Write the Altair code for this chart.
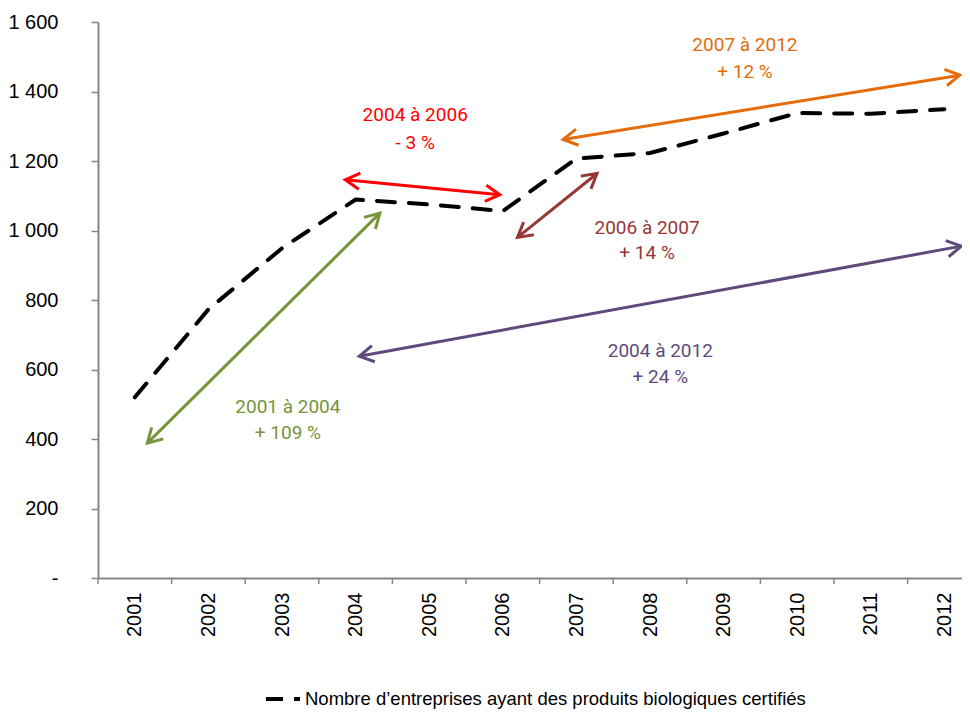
import math
import altair as alt
import pandas as pd

# ---- data ----
years = list(range(2001, 2013))
entreprises = [520, 773, 949, 1089, 1075, 1056, 1207, 1223, 1279, 1338, 1336, 1349]
serie_name = "Nombre d\u2019entreprises ayant des produits biologiques certifiés"
y_ticks = [0, 200, 400, 600, 800, 1000, 1200, 1400, 1600]

arrow_names = ["2001 à 2004", "2004 à 2006", "2006 à 2007", "2007 à 2012", "2004 à 2012"]
arrow_changes = ["+ 109 %", "- 3 %", "+ 14 %", "+ 12 %", "+ 24 %"]
arrow_colors = ["#77933C", "#FF0000", "#953735", "#E46C0A", "#604A7B"]
arrow_x1 = [2001.17, 2003.86, 2006.20, 2006.82, 2004.05]
arrow_y1 = [388, 1146, 980, 1262, 638]
arrow_x2 = [2004.33, 2005.96, 2007.28, 2012.21, 2012.23]
arrow_y2 = [1050, 1103, 1164, 1447, 955]
label_x = [2003.08, 2004.81, 2007.96, 2009.29, 2008.14]
label_y1 = [491, 1331, 1006, 1533, 652]
label_y2 = [416, 1251, 934, 1455, 578]

# ---- layout ----
W, H = 864, 556
X_MIN = 2000.5
X_MAX = X_MIN + W / 73.6
Y_MIN, Y_MAX = 0, 1600
px_x = W / (X_MAX - X_MIN)
px_y = H / (Y_MAX - Y_MIN)

AXIS_FONT = "Liberation Sans, Arial, sans-serif"
ANN_FONT = "Roboto, Liberation Sans, sans-serif"
GRAY = "#868686"

xscale = alt.Scale(domain=[X_MIN, X_MAX], nice=False, zero=False)
yscale = alt.Scale(domain=[Y_MIN, Y_MAX], nice=False)
xaxis = alt.Axis(values=years, format="d", ticks=False, labelAngle=270,
                 labelPadding=14, labelFontSize=20, title=None,
                 labelOverlap=False, labelFlush=False, grid=False)
yaxis = alt.Axis(values=y_ticks, title=None, grid=False,
                 tickSize=7, labelPadding=33, labelFontSize=20,
                 labelExpr="datum.value == 0 ? '-' : replace(format(datum.value, ','), ',', ' ')")

line_df = pd.DataFrame({"year": years, "value": entreprises, "serie": serie_name})

arrows_df = pd.DataFrame({
    "name": arrow_names, "color": arrow_colors,
    "x1": arrow_x1, "y1": arrow_y1, "x2": arrow_x2, "y2": arrow_y2,
})

heads = []
for n, c, x1, y1, x2, y2 in zip(arrow_names, arrow_colors, arrow_x1, arrow_y1, arrow_x2, arrow_y2):
    dx = (x2 - x1) * px_x
    dy = -(y2 - y1) * px_y
    ang = math.degrees(math.atan2(dy, dx))
    heads.append({"name": n, "color": c, "x1": x2, "y1": y2, "ang": ang % 360})
    heads.append({"name": n, "color": c, "x1": x1, "y1": y1, "ang": (ang + 180) % 360})
heads_df = pd.DataFrame(heads)

labels = []
for n, ch, c, lx, ly1, ly2 in zip(arrow_names, arrow_changes, arrow_colors, label_x, label_y1, label_y2):
    labels.append({"txt": n, "color": c, "x1": lx, "y1": ly1})
    labels.append({"txt": ch, "color": c, "x1": lx, "y1": ly2})
labels_df = pd.DataFrame(labels)

bounds_df = pd.DataFrame({"x1": [y - 0.5 for y in years]})

line = alt.Chart(line_df).mark_line(
    strokeDash=[18, 14], strokeWidth=4, strokeCap="round"
).encode(
    x=alt.X("year:Q", scale=xscale, axis=xaxis),
    y=alt.Y("value:Q", scale=yscale, axis=yaxis),
    color=alt.Color("serie:N", scale=alt.Scale(range=["black"]),
                    legend=alt.Legend(orient="none", legendX=166, legendY=658, title=None,
                                      symbolType="stroke", symbolStrokeWidth=4,
                                      symbolDash=[17, 11], symbolSize=1156,
                                      symbolStrokeColor="black",
                                      labelFont=AXIS_FONT, labelFontSize=18.5,
                                      labelLimit=0, labelOffset=3, labelColor="black")),
)

arrow_lines = alt.Chart(arrows_df).mark_rule(strokeWidth=3).encode(
    x=alt.X("x1:Q", scale=xscale, axis=xaxis),
    y=alt.Y("y1:Q", scale=yscale, axis=yaxis),
    x2="x2:Q", y2="y2:Q",
    color=alt.Color("color:N", scale=None),
)

arrow_heads = alt.Chart(heads_df).mark_point(
    shape="M-1,-0.57L0,0L-1,0.57", size=820, filled=False, strokeWidth=3,
    strokeJoin="miter", opacity=1
).encode(
    x=alt.X("x1:Q", scale=xscale, axis=xaxis),
    y=alt.Y("y1:Q", scale=yscale, axis=yaxis),
    angle=alt.Angle("ang:Q", scale=None),
    stroke=alt.Stroke("color:N", scale=None),
)

ann = alt.Chart(labels_df).mark_text(font=ANN_FONT, fontSize=19, align="center", baseline="middle").encode(
    x=alt.X("x1:Q", scale=xscale, axis=xaxis),
    y=alt.Y("y1:Q", scale=yscale, axis=yaxis),
    text="txt:N",
    color=alt.Color("color:N", scale=None),
)

bticks = alt.Chart(bounds_df).mark_rule(color=GRAY, strokeWidth=1.5).encode(
    x=alt.X("x1:Q", scale=xscale, axis=xaxis),
    y=alt.value(H),
    y2=alt.value(H + 6),
)

chart = alt.layer(line, arrow_lines, arrow_heads, ann, bticks).properties(
    width=W, height=H,
    padding={"left": 90, "top": 14, "right": 0, "bottom": 135},
    autosize=alt.AutoSizeParams(type="none"),
).configure_view(stroke=None).configure_axis(
    domainColor=GRAY, domainWidth=2, tickColor=GRAY, tickWidth=1.5,
    labelFont=AXIS_FONT, labelColor="black",
)

chart.save("out.html", embed_options={"renderer": "svg", "actions": False})
